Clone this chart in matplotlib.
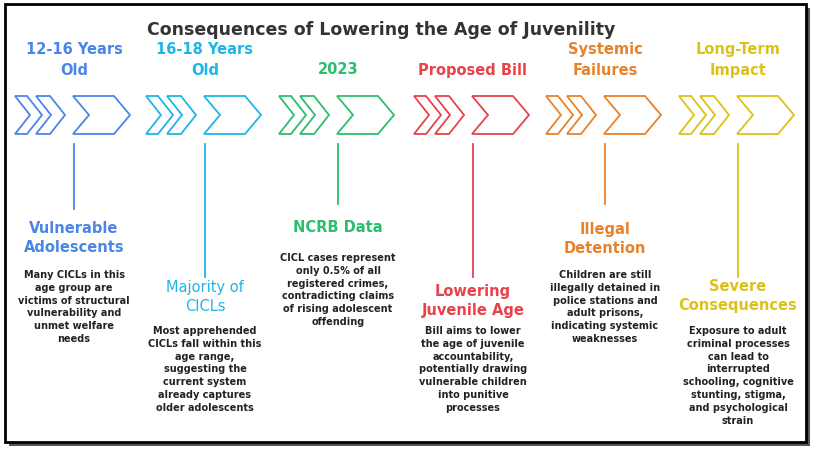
import matplotlib
matplotlib.use("Agg")
import matplotlib.pyplot as plt
from matplotlib.patches import Polygon, Rectangle

headers = ["12-16 Years\nOld", "16-18 Years\nOld", "2023", "Proposed Bill", "Systemic\nFailures", "Long-Term\nImpact"]
subtitles = ["Vulnerable\nAdolescents", "Majority of\nCICLs", "NCRB Data", "Lowering\nJuvenile Age", "Illegal\nDetention", "Severe\nConsequences"]
bodies = [
    "Many CICLs in this\nage group are\nvictims of structural\nvulnerability and\nunmet welfare\nneeds",
    "Most apprehended\nCICLs fall within this\nage range,\nsuggesting the\ncurrent system\nalready captures\nolder adolescents",
    "CICL cases represent\nonly 0.5% of all\nregistered crimes,\ncontradicting claims\nof rising adolescent\noffending",
    "Bill aims to lower\nthe age of juvenile\naccountability,\npotentially drawing\nvulnerable children\ninto punitive\nprocesses",
    "Children are still\nillegally detained in\npolice stations and\nadult prisons,\nindicating systemic\nweaknesses",
    "Exposure to adult\ncriminal processes\ncan lead to\ninterrupted\nschooling, cognitive\nstunting, stigma,\nand psychological\nstrain",
]
colors = ["#4a86e8", "#1fb5e8", "#2dbd6e", "#e8424a", "#e8822a", "#dcc218"]
centers = [74, 205, 338, 473, 605, 738]
line_end = [210, 278, 205, 278, 205, 278]
sub_y = [238, 297, 228, 301, 239, 296]
body_y = [270, 326, 253, 326, 270, 326]
sub_bold = [True, False, True, True, True, True]

fig = plt.figure(figsize=(8.19, 4.56), dpi=100)
ax = fig.add_axes([0, 0, 1, 1])
ax.set_xlim(0, 819); ax.set_ylim(456, 0); ax.axis("off")
ax.add_patch(Rectangle((9, 9), 801, 438, fc="#555555", ec="none"))
ax.add_patch(Rectangle((5, 5), 801, 438, fc="white", ec="black", lw=2))
ax.text(381, 30, "Consequences of Lowering the Age of Juvenility", ha="center", va="center",
        fontsize=12.5, fontweight="bold", color="#333333")

def chevron(x0, w, d, top, bot, col):
    mid = (top + bot) / 2
    pts = [(x0, top), (x0 + w, top), (x0 + w + d, mid), (x0 + w, bot), (x0, bot), (x0 + d, mid)]
    ax.add_patch(Polygon(pts, closed=True, fc="white", ec=col, lw=1.3))

for i, c in enumerate(centers):
    col = colors[i]
    hy = 60 if "\n" in headers[i] else 70
    ax.text(c, hy, headers[i], ha="center", va="center", fontsize=10.5, fontweight="bold",
            color=col, linespacing=1.5)
    chevron(c - 59, 12, 15, 97, 135, col)
    chevron(c - 38, 14, 15, 97, 135, col)
    chevron(c - 1, 41, 16, 97, 135, col)
    ax.plot([c, c], [145, line_end[i]], color=col, lw=1.3)
    ax.text(c, sub_y[i], subtitles[i], ha="center", va="center", fontsize=10.5,
            fontweight="bold" if sub_bold[i] else "normal", color=col, linespacing=1.3)
    ax.text(c, body_y[i], bodies[i], ha="center", va="top", fontsize=7, fontweight="bold",
            color="#222222", linespacing=1.35)

fig.savefig("out.png", dpi=100)
